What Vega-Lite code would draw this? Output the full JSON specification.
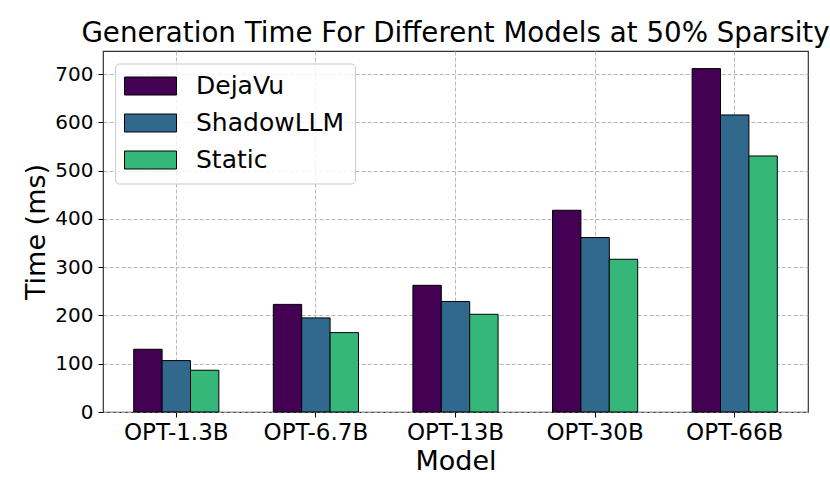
{
  "$schema": "https://vega.github.io/schema/vega-lite/v6.json",
  "autosize": {"type": "none"},
  "width": 705,
  "height": 361,
  "padding": {"left": 103, "top": 51, "right": 22, "bottom": 86},
  "background": "white",
  "config": {
    "font": "DejaVu Sans",
    "view": {"stroke": "#333333", "strokeWidth": 1.2},
    "axis": {
      "labelFont": "DejaVu Sans",
      "titleFont": "DejaVu Sans",
      "labelColor": "black",
      "titleColor": "black",
      "titleFontWeight": "normal",
      "tickColor": "black",
      "tickSize": 5,
      "domain": false,
      "grid": true,
      "gridColor": "#b0b0b0",
      "gridDash": [4, 2],
      "gridWidth": 0.9
    }
  },
  "title": {
    "text": "Generation Time For Different Models at 50% Sparsity",
    "font": "DejaVu Sans",
    "fontSize": 27.7,
    "fontWeight": "normal",
    "color": "black",
    "anchor": "middle",
    "offset": 3
  },
  "data": {
    "values": [
      {"model": "OPT-1.3B", "method": "DejaVu", "time": 130},
      {"model": "OPT-1.3B", "method": "ShadowLLM", "time": 106.5},
      {"model": "OPT-1.3B", "method": "Static", "time": 86.5},
      {"model": "OPT-6.7B", "method": "DejaVu", "time": 223},
      {"model": "OPT-6.7B", "method": "ShadowLLM", "time": 195},
      {"model": "OPT-6.7B", "method": "Static", "time": 164.5},
      {"model": "OPT-13B", "method": "DejaVu", "time": 262.5},
      {"model": "OPT-13B", "method": "ShadowLLM", "time": 229},
      {"model": "OPT-13B", "method": "Static", "time": 202.5},
      {"model": "OPT-30B", "method": "DejaVu", "time": 418},
      {"model": "OPT-30B", "method": "ShadowLLM", "time": 361.5},
      {"model": "OPT-30B", "method": "Static", "time": 316.5},
      {"model": "OPT-66B", "method": "DejaVu", "time": 711.5},
      {"model": "OPT-66B", "method": "ShadowLLM", "time": 615.5},
      {"model": "OPT-66B", "method": "Static", "time": 530.5}
    ]
  },
  "mark": {"type": "bar", "stroke": "black", "strokeWidth": 1, "opacity": 1},
  "encoding": {
    "x": {
      "field": "model",
      "type": "nominal",
      "sort": null,
      "scale": {"paddingInner": 0.39, "paddingOuter": 0.22},
      "axis": {
        "title": "Model",
        "titleFontSize": 27,
        "titlePadding": 4,
        "labelFontSize": 23,
        "labelAngle": 0,
        "labelPadding": 4,
        "bandPosition": 0.5
      }
    },
    "xOffset": {
      "field": "method",
      "type": "nominal",
      "scale": {"paddingInner": 0, "paddingOuter": 0}
    },
    "y": {
      "field": "time",
      "type": "quantitative",
      "scale": {"domain": [0, 748], "nice": false},
      "axis": {
        "title": "Time (ms)",
        "titleFontSize": 27,
        "titlePadding": 4,
        "labelFontSize": 20,
        "labelPadding": 5,
        "values": [0, 100, 200, 300, 400, 500, 600, 700]
      }
    },
    "color": {
      "field": "method",
      "type": "nominal",
      "scale": {
        "domain": ["DejaVu", "ShadowLLM", "Static"],
        "range": ["#440154", "#31688e", "#35b779"]
      },
      "legend": {
        "title": null,
        "orient": "none",
        "legendX": 12,
        "legendY": 12.5,
        "labelFont": "DejaVu Sans",
        "labelFontSize": 25,
        "labelColor": "black",
        "symbolType": "M-2.89,-1H2.89V1H-2.89Z",
        "symbolSize": 324,
        "symbolStrokeColor": "black",
        "symbolStrokeWidth": 1,
        "symbolOpacity": 1,
        "symbolOffset": 13,
        "labelOffset": 33,
        "rowPadding": 11,
        "padding": 10,
        "fillColor": "rgba(255,255,255,0.8)",
        "strokeColor": "#cccccc",
        "cornerRadius": 4
      }
    }
  }
}
